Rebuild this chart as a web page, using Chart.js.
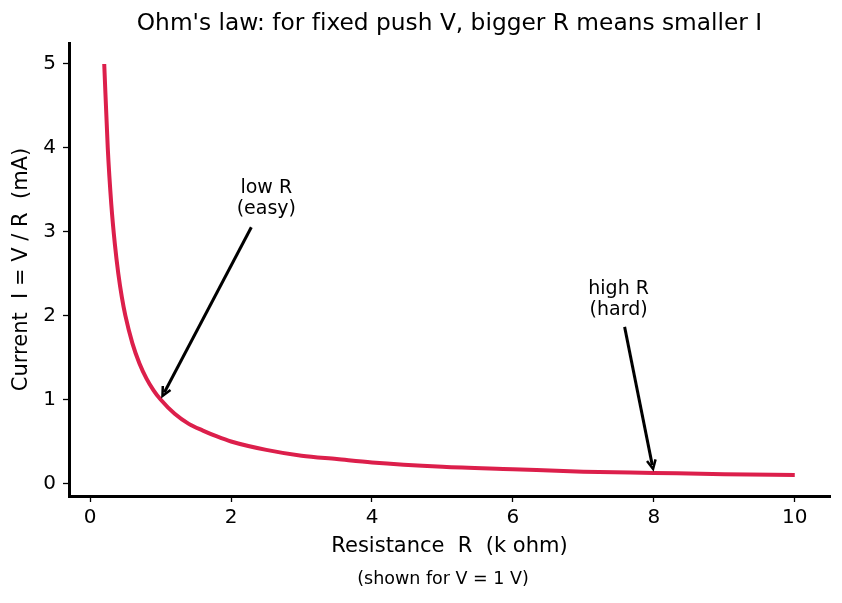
<!DOCTYPE html>
<html>
<head>
<meta charset="utf-8">
<script src="https://cdn.jsdelivr.net/npm/chart.js@4/dist/chart.umd.min.js"></script>
<style>
  html, body { margin: 0; padding: 0; background: #fff; }
  #wrap { width: 842px; height: 603px; }
</style>
</head>
<body>
<div id="wrap"><canvas id="chart" width="842" height="603"></canvas></div>
<script>
  // resistance (k ohm) and current (mA), V = 1 V
  const resistance = [0.2, 0.25, 0.3, 0.35, 0.4, 0.45, 0.5, 0.6, 0.7, 0.8, 0.9, 1.0, 1.2, 1.4, 1.6, 1.8, 2.0, 2.5, 3.0, 3.5, 4.0, 5.0, 6.0, 7.0, 8.0, 9.0, 10.0];
  const current = [5.0, 4.0, 3.33, 2.86, 2.5, 2.22, 2.0, 1.67, 1.43, 1.25, 1.11, 1.0, 0.83, 0.71, 0.63, 0.56, 0.5, 0.4, 0.33, 0.29, 0.25, 0.2, 0.17, 0.14, 0.125, 0.11, 0.1];
  const xTicks = [0, 2, 4, 6, 8, 10];
  const yTicks = [0, 1, 2, 3, 4, 5];

  const titleText = "Ohm's law: for fixed push V, bigger R means smaller I";
  const xTitle = 'Resistance  R  (k ohm)';
  const yTitle = 'Current  I = V / R  (mA)';
  const footnote = '(shown for V = 1 V)';

  // annotation: label lines, label position (data), arrow target (data)
  const notes = [
    { lines: ['low R', '(easy)'], at: [2.5, 3.4], target: [1, 1], from: [-15, 29] },
    { lines: ['high R', '(hard)'], at: [7.5, 2.2], target: [8, 0.125], from: [6, 28] }
  ];

  const FONT = '"DejaVu Sans", sans-serif';

  const textPlugin = {
    id: 'texts',
    afterDraw(chart) {
      const ctx = chart.ctx;
      const xs = chart.scales.x, ys = chart.scales.y;
      const area = chart.chartArea;
      ctx.save();
      ctx.textRendering = 'optimizeSpeed';
      ctx.fillStyle = '#000';
      ctx.textAlign = 'center';
      ctx.textBaseline = 'middle';
      ctx.font = '23.3px ' + FONT;
      ctx.fillText(titleText, (area.left + area.right) / 2, 24);
      ctx.font = '21px ' + FONT;
      ctx.fillText(xTitle, (area.left + area.right) / 2, 547);
      ctx.font = '17.5px ' + FONT;
      ctx.fillText(footnote, 443, 579);
      ctx.save();
      ctx.translate(22, (area.top + area.bottom) / 2);
      ctx.rotate(-Math.PI / 2);
      ctx.font = '21px ' + FONT;
      ctx.fillText(yTitle, 0, 0);
      ctx.restore();

      notes.forEach(n => {
        const cx = xs.getPixelForValue(n.at[0]);
        const cy = ys.getPixelForValue(n.at[1]);
        ctx.font = '19px ' + FONT;
        ctx.fillText(n.lines[0], cx, cy - 10);
        ctx.fillText(n.lines[1], cx, cy + 11);
        const sx = cx + n.from[0], sy = cy + n.from[1];
        const tx = xs.getPixelForValue(n.target[0]);
        const ty = ys.getPixelForValue(n.target[1]);
        const ang = Math.atan2(ty - sy, tx - sx);
        const ex = tx - 4 * Math.cos(ang), ey = ty - 4 * Math.sin(ang);
        ctx.strokeStyle = '#000';
        ctx.lineWidth = 3;
        ctx.beginPath();
        ctx.moveTo(sx, sy);
        ctx.lineTo(ex - 4 * Math.cos(ang), ey - 4 * Math.sin(ang));
        ctx.stroke();
        ctx.lineWidth = 2.5;
        ctx.lineJoin = 'miter';
        ctx.beginPath();
        ctx.moveTo(ex - 10 * Math.cos(ang - 0.45), ey - 10 * Math.sin(ang - 0.45));
        ctx.lineTo(ex, ey);
        ctx.lineTo(ex - 10 * Math.cos(ang + 0.45), ey - 10 * Math.sin(ang + 0.45));
        ctx.stroke();
      });
      ctx.restore();
    }
  };

  new Chart(document.getElementById('chart'), {
    type: 'line',
    data: {
      datasets: [{
        data: resistance.map((r, i) => ({ x: r, y: current[i] })),
        borderColor: '#DC1F4B',
        borderWidth: 4,
        pointRadius: 0,
        cubicInterpolationMode: 'monotone',
        fill: false
      }]
    },
    options: {
      responsive: false,
      animation: false,
      layout: { padding: { left: 0, top: 43, right: 12, bottom: 0 } },
      plugins: { legend: { display: false }, tooltip: { enabled: false } },
      scales: {
        x: {
          type: 'linear',
          min: -0.3, max: 10.5,
          afterBuildTicks: s => { s.ticks = xTicks.map(v => ({ value: v })); },
          afterFit: s => { s.height = 107; },
          grid: { drawOnChartArea: false, drawTicks: true, tickLength: 6, tickWidth: 1.3, color: '#000' },
          border: { display: true, width: 3, color: '#000' },
          ticks: { color: '#000', font: { family: FONT, size: 20 }, padding: 4, maxRotation: 0 }
        },
        y: {
          min: -0.15, max: 5.25,
          afterBuildTicks: s => { s.ticks = yTicks.map(v => ({ value: v })); },
          afterFit: s => { s.width = 69; },
          grid: { drawOnChartArea: false, drawTicks: true, tickLength: 6, tickWidth: 1.3, color: '#000' },
          border: { display: true, width: 3, color: '#000' },
          ticks: { color: '#000', font: { family: FONT, size: 20 }, padding: 7 }
        }
      }
    },
    plugins: [textPlugin]
  });
</script>
</body>
</html>
